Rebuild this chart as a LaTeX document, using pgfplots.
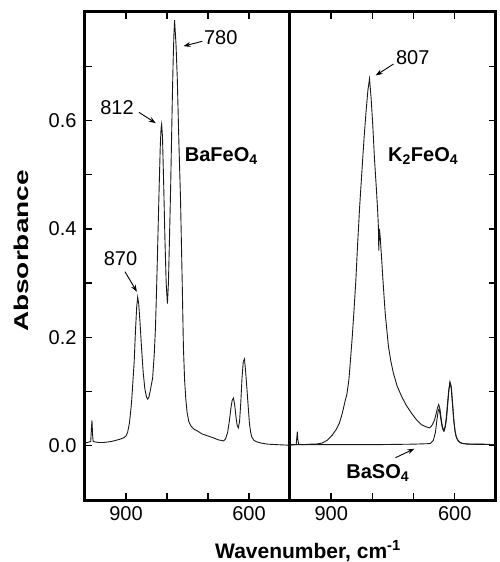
\documentclass[border=0pt]{standalone}
\usepackage{fontspec}
\setmainfont{Liberation Sans}
\usepackage{pgfplots}
\pgfplotsset{compat=1.18}
\usetikzlibrary{arrows.meta}

\pgfplotsset{panel/.style={
  scale only axis, height=488pt, x dir=reverse,
  xmin=500, xmax=1000, ymin=-0.1, ymax=0.8,
  xtick={900,800,700,600}, xticklabels={900,,,600},
  ytick={-0.1,0,0.1,0.2,0.3,0.4,0.5,0.6,0.7,0.8},
  tick align=inside, major tick length=7pt,
  axis line style={line width=3pt},
  every tick/.style={black, line width=1.4pt},
  tick label style={font=\fontsize{20}{24}\selectfont},
  yticklabel style={xshift=-5pt},
  xticklabel style={yshift=-3pt},
},
spec/.style={line width=0.9pt, black!90, no markers}}
\tikzset{lbl/.style={font=\fontsize{20}{24}\selectfont},
  ann/.style={-{Stealth[length=7pt,width=5pt]}, line width=0.9pt}}

\begin{document}
\begin{tikzpicture}
\useasboundingbox (-85pt,-62pt) rectangle (414pt,500pt);

% BaFeO4
\begin{axis}[panel, width=205pt, at={(0pt,0pt)}, anchor=south west,
  ytick pos=left, yticklabels={,0.0,,0.2,,0.4,,0.6,,}]
\addplot[spec] coordinates {
(1000,0.005) (995,0.006) (990,0.007) (986,0.008) (984.5,0.030) (983,0.047)
(981.5,0.020) (980,0.008) (975,0.007) (965,0.006) (955,0.006) (945,0.007)
(935,0.008) (925,0.010) (915,0.012) (905,0.015) (900,0.018) (896,0.025)
(892,0.040) (889,0.060) (886,0.085) (883,0.120) (880,0.155) (877,0.210)
(874,0.255) (871.5,0.274) (869,0.262) (866,0.230) (862,0.180) (858,0.135)
(854,0.105) (850,0.090) (847,0.086) (844,0.090) (840,0.105) (835,0.125)
(831,0.170) (828,0.220) (825,0.300) (822,0.390) (819,0.480) (816.5,0.550)
(814.5,0.585) (813,0.593) (811,0.570) (808,0.480) (805,0.380) (802,0.300)
(799,0.262) (796.5,0.300) (794,0.380) (791,0.480) (789,0.560) (787,0.640)
(785,0.710) (783,0.760) (781.5,0.785) (778,0.740) (775,0.680) (771,0.560)
(767,0.454) (763,0.306) (760,0.183) (757,0.120) (754,0.085) (751,0.062)
(747,0.045) (742,0.037) (735,0.031) (725,0.027) (715,0.022) (700,0.018)
(688,0.015) (675,0.011) (662,0.009) (657,0.013) (652,0.025) (648,0.045)
(644,0.070) (641,0.084) (638,0.088) (635,0.076) (632,0.055) (629,0.038)
(626,0.033) (623,0.045) (620,0.080) (617,0.125) (614,0.155) (611,0.160)
(608,0.135) (605,0.105) (602,0.073) (599,0.042) (596,0.025) (593,0.016)
(588,0.010) (580,0.007) (570,0.005) (555,0.003) (530,0.002) (500,0.001)
};
\node[lbl] at (axis cs:669,0.753) {780};
\draw[ann] (axis cs:713.7,0.746) -- (axis cs:759.7,0.737);
\node[lbl] at (axis cs:921.8,0.623) {812};
\draw[ann] (axis cs:868.5,0.615) -- (axis cs:827.4,0.595);
\node[lbl] at (axis cs:913.3,0.346) {870};
\draw[ann] (axis cs:902.4,0.321) -- (axis cs:873.4,0.284);
\node[lbl] at (axis cs:667.7,0.534) {\textbf{BaFeO\textsubscript{4}}};
\end{axis}

% K2FeO4 and BaSO4
\begin{axis}[panel, width=206pt, at={(205pt,0pt)}, anchor=south west,
  ytick pos=right, yticklabels={}]
\addplot[spec] coordinates {
(1000,0.002) (990,0.002) (970,0.002) (950,0.003) (937,0.003) (922,0.005)
(910,0.010) (897,0.020) (888,0.030) (880,0.042) (873,0.060) (867,0.080)
(862,0.095) (857,0.122) (853,0.160) (849,0.200) (845,0.245) (840,0.307)
(836,0.370) (831,0.440) (826,0.500) (820,0.570) (815,0.620) (811,0.655)
(807,0.677) (803,0.640) (799,0.590) (795,0.530) (790,0.470) (787,0.430)
(785.5,0.405) (784.5,0.360) (783,0.400) (781,0.385) (778,0.350) (774.5,0.307)
(769,0.245) (761,0.183) (755,0.155) (749,0.134) (740,0.110) (729,0.091)
(718,0.075) (705,0.060) (693,0.048) (681,0.039) (670,0.035) (661,0.033)
(655,0.038) (649,0.048) (645,0.060) (642,0.070) (639,0.076) (636,0.068)
(633,0.050) (630,0.035) (627,0.028) (624,0.034) (621,0.050) (618,0.075)
(615,0.100) (612,0.118) (609,0.110) (606,0.080) (603,0.050) (600,0.030)
(597,0.018) (593,0.011) (589,0.007) (580,0.004) (560,0.003) (530,0.003)
(500,0.002)
};
\addplot[spec] coordinates {
(1000,0.001) (990,0.002) (985,0.002) (983.5,0.015) (982.3,0.026) (981,0.012)
(979,0.003) (970,0.002) (900,0.002) (800,0.002) (700,0.003) (660,0.004)
(652,0.010) (647,0.025) (643,0.050) (640,0.066) (638,0.068) (635,0.055)
(632,0.040) (629,0.030) (626,0.027) (623,0.035) (620,0.050) (617,0.078)
(614,0.105) (611,0.115) (608,0.105) (605,0.075) (602,0.045) (599,0.025)
(596,0.015) (592,0.009) (585,0.005) (570,0.003) (500,0.002)
};
\node[lbl] at (axis cs:702,0.715) {807};
\draw[ann] (axis cs:748.8,0.704) -- (axis cs:792,0.683);
\node[lbl] at (axis cs:676.8,0.534) {\textbf{K\textsubscript{2}FeO\textsubscript{4}}};
\node[lbl] at (axis cs:787,-0.05) {\textbf{BaSO\textsubscript{4}}};
\draw[ann] (axis cs:744,-0.022) -- (axis cs:698,-0.0055);
\end{axis}

\node[lbl, rotate=90] at (-64pt,249pt) {\scalebox{1.4}[1]{\textbf{Absorbance}}};
\node[font=\fontsize{21}{25}\selectfont] at (223pt,-51pt) {\textbf{Wavenumber, cm\textsuperscript{-1}}};
\end{tikzpicture}
\end{document}
